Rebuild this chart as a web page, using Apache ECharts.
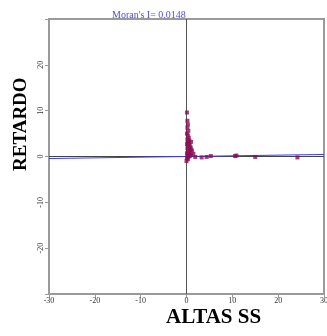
<!DOCTYPE html>
<html><head><meta charset="utf-8">
<script src="https://cdn.jsdelivr.net/npm/echarts@6/dist/echarts.min.js"></script>
<style>html,body{margin:0;padding:0;background:#fff}#c{width:327px;height:336px}</style>
</head><body><div id="c"></div>
<script>
const xTicks = [-30, -20, -10, 0, 10, 20, 30];
const yTicks = [-30, -20, -10, 0, 10, 20, 30];
const moranI = 0.0148;
const altasX = [0.1,0.2,0.3,0.2,0.4,0.1,0.3,0.5,0.2,0.6,1.0,0.3,0.1,0.7,0.4,0.9,0.2,0.6,1.2,0.3,0.8,0.1,0.5,1.0,0.2,0.7,0.4,0.1,0.3,0.0,1.5,0.9,0.5,1.9,3.3,4.4,5.3,10.6,10.9,15.0,24.2];
const retardoY = [9.6,7.8,7.0,6.3,5.6,5.0,4.6,4.1,3.7,3.5,3.2,3.0,2.7,2.5,2.2,2.0,1.8,1.5,1.3,1.1,0.9,0.7,0.5,0.3,0.2,0.1,-0.1,-0.3,-0.6,-1.0,0.6,1.6,2.9,-0.1,-0.2,-0.1,0.1,0.1,0.2,-0.1,-0.2];
const pts = altasX.map((x, i) => [x, retardoY[i]]);
const lineX = [xTicks[0], xTicks[xTicks.length - 1]];
const regLine = lineX.map(x => [x, moranI * x]);

const chart = echarts.init(document.getElementById('c'));
const font = '"Liberation Serif", "Times New Roman", serif';
chart.setOption({
  animation: false,
  grid: { left: 49, right: 3, top: 19, bottom: 42, show: true, borderColor: '#9a9a9a', borderWidth: 2, backgroundColor: '#fff', containLabel: false, outerBoundsMode: 'none' },
  title: { text: "Moran's I= 0.0148", left: 107, top: 5, textStyle: { fontFamily: font, fontSize: 10, fontWeight: 'normal', color: '#4a4aff' } },
  xAxis: {
    type: 'value', min: xTicks[0], max: xTicks[xTicks.length - 1], interval: 10,
    axisLine: { show: true, onZero: false, lineStyle: { color: '#9a9a9a', width: 2 } },
    axisTick: { show: true, length: 4, lineStyle: { color: '#9a9a9a' } },
    axisLabel: { fontFamily: font, fontSize: 8, color: '#333', margin: 3 },
    splitLine: { show: false }
  },
  yAxis: {
    type: 'value', min: yTicks[0], max: yTicks[yTicks.length - 1], interval: 10,
    axisLine: { show: true, onZero: false, lineStyle: { color: '#9a9a9a', width: 2 } },
    axisTick: { show: true, length: 4, lineStyle: { color: '#9a9a9a' } },
    axisLabel: { fontFamily: font, fontSize: 8, color: '#333', margin: 4, rotate: 90,
      formatter: v => (v === 30 || v === -30) ? '' : String(v) },
    splitLine: { show: false }
  },
  graphic: [
    { type: 'text', left: 166, top: 307, style: { text: 'ALTAS SS', font: 'bold 21px ' + font, fill: '#000' } },
    { type: 'text', x: 12, y: 171, rotation: Math.PI / 2, style: { text: 'RETARDO', font: 'bold 19px ' + font, fill: '#000', textAlign: 'left', textVerticalAlign: 'top' } }
  ],
  series: [
    { type: 'line', data: [[0, -30], [0, 30]], symbol: 'none', lineStyle: { color: '#555', width: 1 }, z: 1 },
    { type: 'line', data: [[-30, 0], [30, 0]], symbol: 'none', lineStyle: { color: '#444', width: 1 }, z: 1 },
    { type: 'line', data: regLine, symbol: 'none', lineStyle: { color: '#3a3aff', width: 1 }, z: 2 },
    { type: 'scatter', data: pts, symbol: 'rect', symbolSize: 4, itemStyle: { color: '#8a0f52' }, z: 3 }
  ]
});
</script></body></html>
